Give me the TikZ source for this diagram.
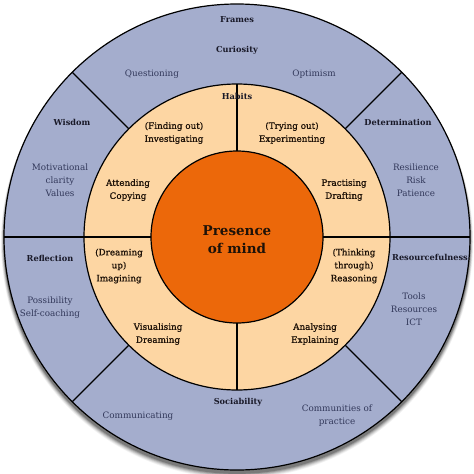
\documentclass[tikz,border=0pt]{standalone}
\usepackage{fontspec}
\setmainfont{DejaVu Serif}
\newfontfamily\habitfont{DejaVu Serif}[FakeBold=0.9]
\definecolor{framefill}{RGB}{164,173,205}
\definecolor{habitfill}{RGB}{253,214,163}
\definecolor{corefill}{RGB}{236,104,10}
\definecolor{lighttext}{RGB}{50,56,90}
\definecolor{darktext}{RGB}{25,25,40}
\definecolor{habittext}{RGB}{30,18,8}
\tikzset{
  lbl/.style={inner sep=0pt, align=center, font=\fontsize{8.8}{13}\selectfont},
  frametitle/.style={lbl, text=darktext, font=\fontsize{8.2}{13}\selectfont\bfseries},
  frameitem/.style={lbl, text=lighttext},
  habititem/.style={lbl, text=habittext, font=\habitfont\fontsize{8.8}{13}\selectfont},
  divider/.style={draw=black, line width=1.2pt},
  ringedge/.style={draw=black, line width=1.2pt}
}
\begin{document}
\begin{tikzpicture}[x=1pt,y=-1pt]
\useasboundingbox (0,0) rectangle (474,474);
% shadow
\foreach \k/\o in {6/0.05,5/0.07,4/0.09,3/0.12,2/0.15,1/0.2}{
  \fill[black, opacity=\o] (237,240+\k*0.4) circle (233+\k*0.5);
}
% rings
\filldraw[ringedge, fill=framefill] (237,237) circle (233);
\filldraw[ringedge, fill=habitfill] (237,237) circle (153);
\filldraw[ringedge, fill=corefill] (237,237) circle (86);
% coordinates for dividers
\coordinate (c) at (237,237);
\coordinate (hl1) at (4,237);
\coordinate (hl2) at (151,237);
\coordinate (hr1) at (323,237);
\coordinate (hr2) at (470,237);
\coordinate (vt1) at (237,84);
\coordinate (vt2) at (237,151);
\coordinate (vb1) at (237,323);
\coordinate (vb2) at (237,390);
\draw[divider] (hl1) -- (hl2);
\draw[divider] (hr1) -- (hr2);
\draw[divider] (vt1) -- (vt2);
\draw[divider] (vb1) -- (vb2);
\foreach \a in {45,135,225,315}{
  \draw[divider] ([shift={(\a:153)}]c) -- ([shift={(\a:233)}]c);
}
% frame labels
\node[frametitle] (frames) at (237,20) {Frames};
\node[frametitle] (curiosity) at (237,50) {Curiosity};
\node[frameitem] (questioning) at (152,74) {Questioning};
\node[frameitem] (optimism) at (314,74) {Optimism};
\node[frametitle] (habits) at (237,96) {Habits};
\node[frametitle] (wisdom) at (72,122) {Wisdom};
\node[frameitem] (motiv) at (60,180) {Motivational\\clarity\\Values};
\node[frametitle] (determination) at (398,122) {Determination};
\node[frameitem] (resil) at (416,180) {Resilience\\Risk\\Patience};
\node[frametitle] (reflection) at (50,258) {Reflection};
\node[frameitem] (possib) at (50,308) {Possibility\\Self-coaching};
\node[frametitle] (resource) at (430,257) {Resourcefulness};
\node[frameitem] (tools) at (414,309) {Tools\\Resources\\ICT};
\node[frametitle] (sociab) at (238,402) {Sociability};
\node[frameitem] (commun) at (138,416) {Communicating};
\node[frameitem] (communities) at (337,416) {Communities of\\practice};
% habit labels
\node[habititem] (invest) at (174,133) {(Finding out)\\Investigating};
\node[habititem] (experi) at (292,133) {(Trying out)\\Experimenting};
\node[habititem] (attend) at (128,190) {Attending\\Copying};
\node[habititem] (practis) at (344,190) {Practising\\Drafting};
\node[habititem] (imagin) at (119,266) {(Dreaming\\up)\\Imagining};
\node[habititem] (reason) at (354,266) {(Thinking\\through)\\Reasoning};
\node[habititem] (visual) at (158,334) {Visualising\\Dreaming};
\node[habititem] (analys) at (315,334) {Analysing\\Explaining};
% core
\node[lbl, text=habittext, font=\fontsize{13.5}{18}\selectfont\bfseries] (presence) at (237,240) {Presence\\of mind};
\end{tikzpicture}
\end{document}
